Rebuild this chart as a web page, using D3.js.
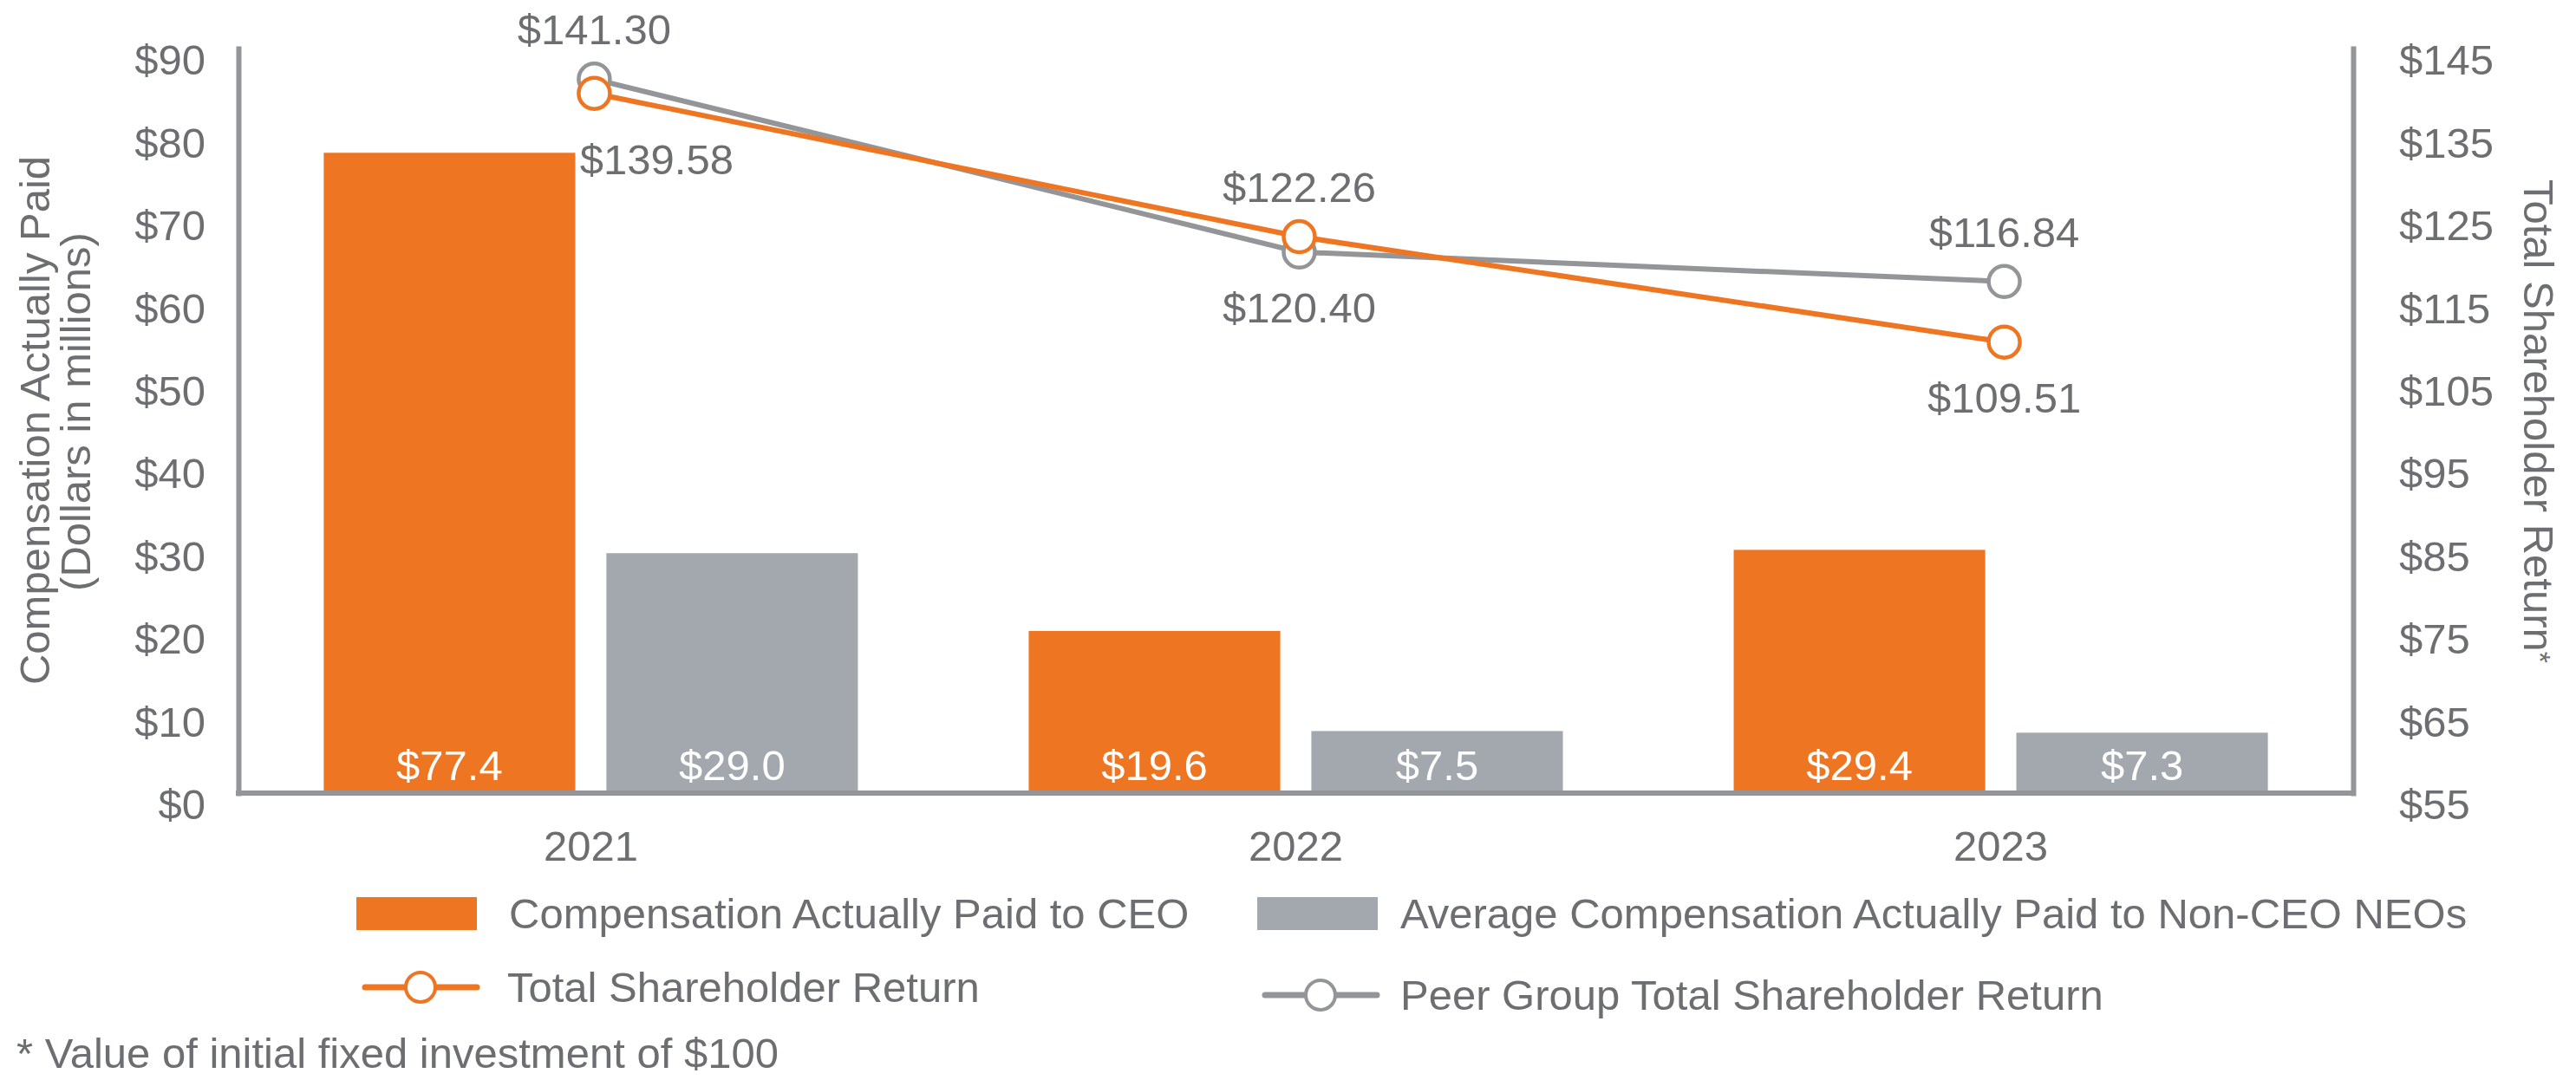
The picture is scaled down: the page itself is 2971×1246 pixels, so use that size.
<!DOCTYPE html>
<html><head><meta charset="utf-8">
<script src="https://cdn.jsdelivr.net/npm/d3@7"></script>
<style>
body{margin:0;background:#fff}
text{font-family:"Liberation Sans",Arial,Helvetica,sans-serif;}
</style>
</head><body>
<svg id="c" width="2971" height="1246"></svg>
<script>
// ---- data ----
const years = ["2021", "2022", "2023"];
const ceoCAP = [77.4, 19.6, 29.4];
const neoCAP = [29.0, 7.5, 7.3];
const tsr = [139.58, 122.26, 109.51];
const peerTsr = [141.30, 120.40, 116.84];
const leftTicks = [0, 10, 20, 30, 40, 50, 60, 70, 80, 90];
const rightTicks = [55, 65, 75, 85, 95, 105, 115, 125, 135, 145];
const barSeries = ["Compensation Actually Paid to CEO", "Average Compensation Actually Paid to Non-CEO NEOs"];
const lineSeries = ["Total Shareholder Return", "Peer Group Total Shareholder Return"];
const leftTitle = ["Compensation Actually Paid", "(Dollars in millions)"];
const rightTitle = "Total Shareholder Return";
const footnote = "* Value of initial fixed investment of $100";

// ---- styles ----
const ORANGE = "#EE7623", GRAYBAR = "#A2A8AE", GRAYLINE = "#939598", TXT = "#6D6E71", AXIS = "#939598";
const FS = 49;

const svg = d3.select("#c");
const L = 275, R = 2714, T = 56, B = 915;

const x0 = d3.scaleBand().domain(years).range([L, R]).paddingInner(0.2423).paddingOuter(0.121);
const x1 = d3.scaleBand().domain([0, 1]).range([0, x0.bandwidth()]).paddingInner(0.11);
const yL = d3.scaleLinear().domain([0, 90]).range([B, T]);
const yR = d3.scaleLinear().domain([55, 145]).range([B, T]);

// bars
const bars = svg.append("g");
years.forEach((yr, i) => {
  [ceoCAP[i], neoCAP[i]].forEach((v, j) => {
    const bx = x0(yr) + x1(j);
    bars.append("rect")
      .attr("x", bx).attr("y", yL(v))
      .attr("width", x1.bandwidth()).attr("height", yL(0) - yL(v))
      .attr("fill", j === 0 ? ORANGE : GRAYBAR);
    bars.append("text")
      .attr("x", bx + x1.bandwidth() / 2).attr("y", 883)
      .attr("dy", "0.35em").attr("text-anchor", "middle")
      .attr("font-size", FS).attr("fill", "#fff")
      .text("$" + v.toFixed(1));
  });
});

// axes
function styleAxis(g) {
  g.select(".domain").attr("stroke", AXIS).attr("stroke-width", 6).attr("stroke-linecap", "square");
  g.selectAll("text").attr("font-size", FS).attr("fill", TXT).attr("font-family", '"Liberation Sans",Arial,sans-serif');
}
const gL = svg.append("g").attr("transform", `translate(${L},0)`)
  .call(d3.axisLeft(yL).tickValues(leftTicks).tickSize(0).tickSizeOuter(0).tickPadding(38).tickFormat(d => "$" + d));
styleAxis(gL); gL.selectAll("text").attr("y", 14);
const gR = svg.append("g").attr("transform", `translate(${R},0)`)
  .call(d3.axisRight(yR).tickValues(rightTicks).tickSize(0).tickSizeOuter(0).tickPadding(53).tickFormat(d => "$" + d));
styleAxis(gR); gR.selectAll("text").attr("y", 14);
const gB = svg.append("g").attr("transform", `translate(0,${B})`)
  .call(d3.axisBottom(x0).tickSize(0).tickSizeOuter(0));
styleAxis(gB); gB.selectAll("text").attr("y", 61).attr("dy", "0.35em");
gB.select(".domain").attr("d", `M${L},0H${R}`);

// lines
const cx = yr => x0(yr) + x0.bandwidth() / 2 + 4;
const line = d3.line();
function drawLine(vals, color) {
  svg.append("path")
    .attr("d", line(years.map((yr, i) => [cx(yr), yR(vals[i])])))
    .attr("fill", "none").attr("stroke", color).attr("stroke-width", 6).attr("stroke-linejoin", "round");
}
drawLine(peerTsr, GRAYLINE);
drawLine(tsr, ORANGE);
function drawPts(vals, color) {
  years.forEach((yr, i) => {
    svg.append("circle").attr("cx", cx(yr)).attr("cy", yR(vals[i])).attr("r", 18)
      .attr("fill", "#fff").attr("stroke", color).attr("stroke-width", 4.5);
  });
}
drawPts(peerTsr, GRAYLINE);
drawPts(tsr, ORANGE);

// data labels for lines
years.forEach((yr, i) => {
  const pair = [tsr[i], peerTsr[i]];
  const hi = Math.max(...pair), lo = Math.min(...pair);
  svg.append("text").attr("x", cx(yr)).attr("y", yR(hi) - 57).attr("dy", "0.35em")
    .attr("text-anchor", "middle").attr("font-size", FS).attr("fill", TXT).text("$" + hi.toFixed(2));
  const first = i === 0;
  svg.append("text").attr("x", cx(yr) + (first ? 72 : 0)).attr("y", yR(lo) + (first ? 76 : 64)).attr("dy", "0.35em")
    .attr("text-anchor", "middle").attr("font-size", FS).attr("fill", TXT).text("$" + lo.toFixed(2));
});

// axis titles
const lt = svg.append("text").attr("transform", "translate(0,485) rotate(-90)")
  .attr("text-anchor", "middle").attr("font-size", FS).attr("fill", TXT);
lt.append("tspan").attr("x", 0).attr("y", 40).attr("dy", "0.35em").text(leftTitle[0]);
lt.append("tspan").attr("x", 10).attr("y", 87).attr("dy", "0.35em").text(leftTitle[1]);

const rt = svg.append("text").attr("transform", "translate(2928,486) rotate(90)")
  .attr("text-anchor", "middle").attr("dy", "0.35em").attr("font-size", FS).attr("fill", TXT);
rt.append("tspan").text(rightTitle);
rt.append("tspan").attr("font-size", 34).attr("dy", "-0.2em").text("*");

// legend
const lg = svg.append("g");
const swatch = [[411, ORANGE, 587], [1450, GRAYBAR, 1615]];
barSeries.forEach((s, i) => {
  lg.append("rect").attr("x", swatch[i][0]).attr("y", 1035).attr("width", 139).attr("height", 38).attr("fill", swatch[i][1]);
  lg.append("text").attr("x", swatch[i][2]).attr("y", 1054).attr("dy", "0.35em")
    .attr("font-size", FS).attr("fill", TXT).text(s);
});
const lsym = [[421, 1139, ORANGE, 585], [1459, 1148, GRAYLINE, 1615]];
lineSeries.forEach((s, i) => {
  const [lx, ly, col, tx] = lsym[i];
  lg.append("line").attr("x1", lx).attr("x2", lx + 129).attr("y1", ly).attr("y2", ly)
    .attr("stroke", col).attr("stroke-width", 7).attr("stroke-linecap", "round");
  lg.append("circle").attr("cx", lx + 64).attr("cy", ly).attr("r", 17)
    .attr("fill", "#fff").attr("stroke", col).attr("stroke-width", 4);
  lg.append("text").attr("x", tx).attr("y", ly).attr("dy", "0.35em")
    .attr("font-size", FS).attr("fill", TXT).text(s);
});

svg.append("text").attr("x", 19).attr("y", 1215).attr("dy", "0.35em")
  .attr("font-size", FS).attr("fill", TXT).text(footnote);
</script>
</body></html>
